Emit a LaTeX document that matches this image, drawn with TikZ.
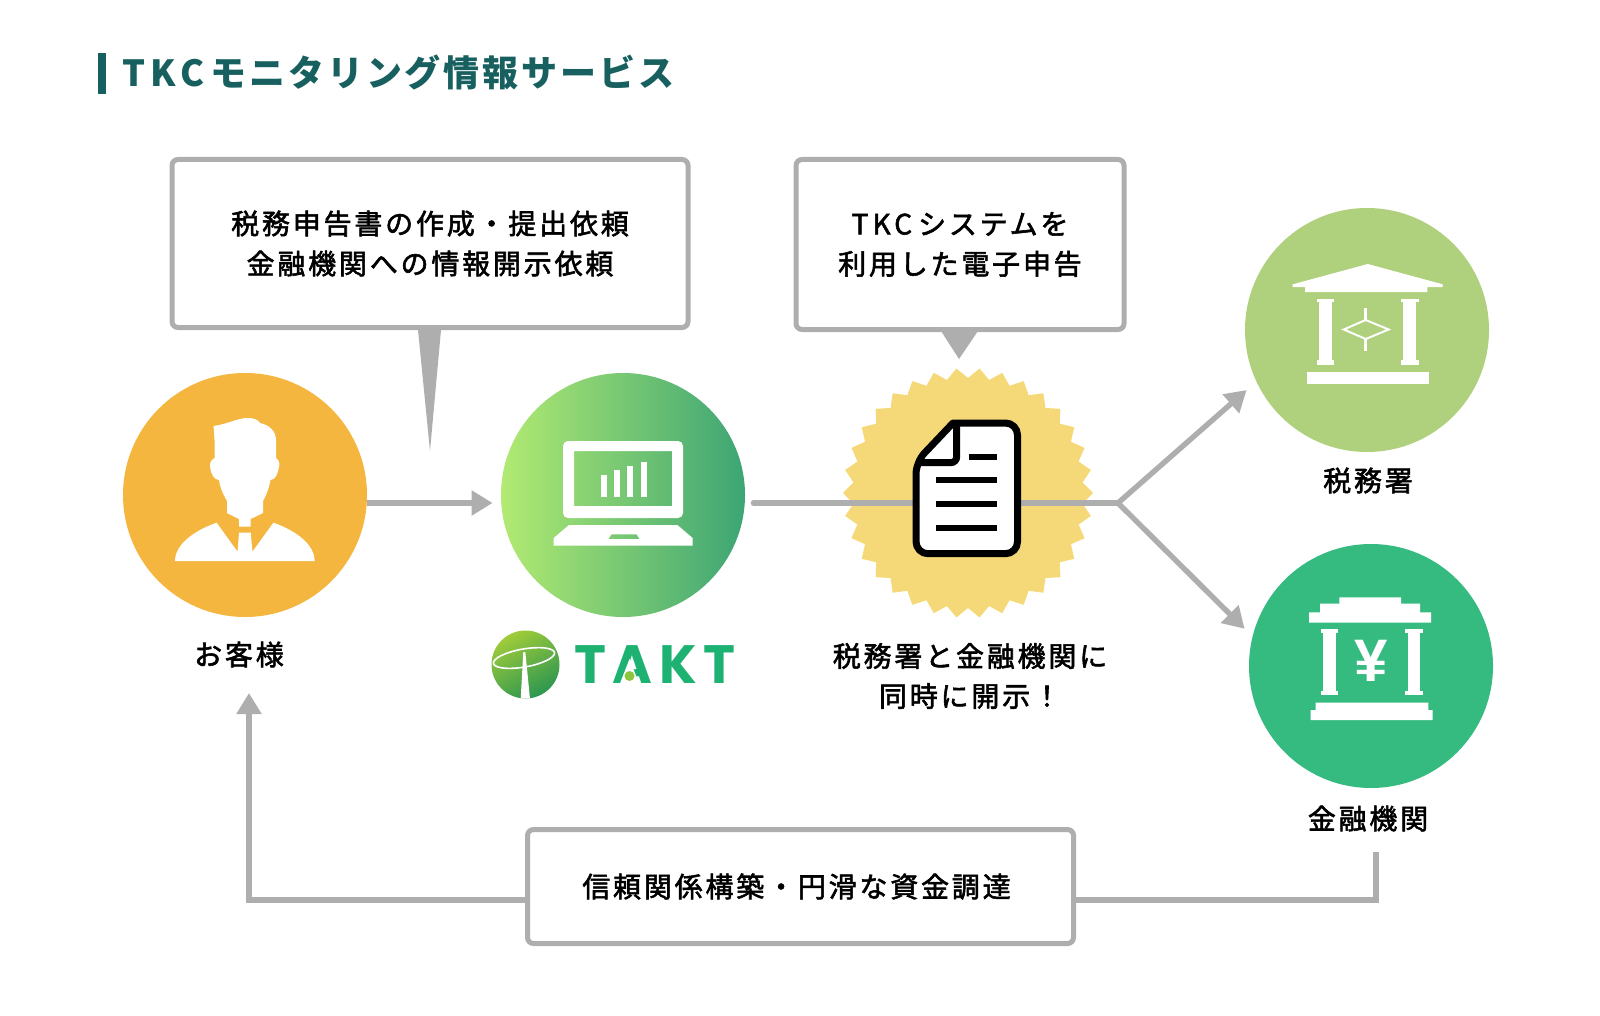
\documentclass[tikz,border=0pt]{standalone}
\usepackage{fontspec}
\usepackage{tikz}
\usetikzlibrary{arrows.meta,shapes.geometric}

\newfontfamily\jpfont[LetterSpace=10,FakeBold=2]{Noto Sans CJK JP}
\newfontfamily\titlefont[LetterSpace=8]{Noto Sans CJK JP}
\newfontfamily\logofont[LetterSpace=12]{Poppins}
\newcommand{\wideLetters}[1]{{\addfontfeature{LetterSpace=15}#1}\kern3pt}
\newcommand{\upText}[1]{\raisebox{0.7pt}{#1}}

\definecolor{flowGrey}{HTML}{AEAEAE}
\definecolor{titleTeal}{HTML}{17605F}
\definecolor{customerOrange}{HTML}{F4B63F}
\definecolor{sealYellow}{HTML}{F5D978}
\definecolor{taxGreen}{HTML}{AFD07C}
\definecolor{bankGreen}{HTML}{35BB80}
\definecolor{logoGreen}{HTML}{1DB272}
\definecolor{logoDot}{HTML}{8CC63F}

\tikzset{
	bigCircle/.style={circle, inner sep=0pt, minimum size=122pt},
	calloutBox/.style={rectangle, draw=flowGrey, line width=2.5pt, rounded corners=3pt, fill=white, inner sep=0pt, align=center, font=\jpfont\fontsize{14}{20}\selectfont},
	jpLabel/.style={align=center, inner sep=0pt, font=\jpfont\fontsize{14}{20}\selectfont},
	flowLine/.style={draw=flowGrey, line width=2.7pt},
	flowArrow/.style={flowLine, -{Triangle[length=10.5pt,width=12pt]}},
	iconFill/.style={fill=white, draw=none},
	docLine/.style={line width=3pt, draw=black}
}

\begin{document}
\begin{tikzpicture}[x=0.5pt,y=-0.5pt]
	
	\useasboundingbox (0,0) rectangle (1600,1016);
	
	% Title
	
	\node[rectangle, fill=titleTeal, minimum width=4pt, minimum height=20.5pt, inner sep=0pt]
	(titleBar) at (102,73.5) {};
	
	\node[anchor=west, inner sep=0pt, text=titleTeal, font=\titlefont\bfseries\fontsize{18}{20}\selectfont]
	(titleText) at (122,72) {\wideLetters{TKC}モニタリング情報サービス};
	
	% Circles
	
	\node[bigCircle, fill=customerOrange]
	(customerNode) at (245,495) {};
	
	\node[bigCircle, shading=axis, left color={rgb,255:red,178;green,234;blue,114}, right color={rgb,255:red,60;green,165;blue,116}]
	(taktNode) at (623,495) {};
	
	\node[star, star points=34, star point ratio=1.087, shape border rotate=5.29, minimum size=125pt, inner sep=0pt, fill=sealYellow]
	(sealNode) at (968,493) {};
	
	\node[bigCircle, fill=taxGreen]
	(taxNode) at (1367,330) {};
	
	\node[bigCircle, fill=bankGreen]
	(bankNode) at (1371,666) {};
	
	% Callouts
	
	\node[calloutBox, minimum width=258pt, minimum height=84pt]
	(filingBox) at (430,243.5) {\upText{税務申告書の作成・提出依頼}\\\upText{金融機関への情報開示依頼}};
	
	\node[calloutBox, minimum width=164pt, minimum height=85pt]
	(systemBox) at (960,244.5) {\upText{\wideLetters{TKC}システムを}\\\upText{利用した電子申告}};
	
	\node[calloutBox, minimum width=273pt, minimum height=57pt]
	(trustBox) at (800.5,886.5) {\upText{信頼関係構築・円滑な資金調達}\hspace{4pt}};
	
	\fill[flowGrey] (418,330) -- (441,330) -- (430,451) -- cycle;
	\fill[flowGrey] (941,331) -- (978,331) -- (959,359) -- cycle;
	
	% Labels
	
	\node[jpLabel] (customerLabel) at (239,654.5) {お客様};
	\node[jpLabel] (sealLabel) at (970,676) {税務署と金融機関に\\同時に開示！};
	\node[jpLabel] (taxLabel) at (1368,480.5) {税務署};
	\node[jpLabel] (bankLabel) at (1368,818.5) {金融機関};
	
	% Edges...
	
	\coordinate (split) at (1118,503);
	\coordinate (customerIn) at (249,693);
	\coordinate (bankOut) at (1376,852);
	
	\draw[flowArrow, shorten >=4pt] ([yshift=-4pt]customerNode.east) -- ([yshift=-4pt]taktNode.west);
	\draw[flowLine, line cap=round, shorten <=4pt] ([yshift=-4pt]taktNode.east) -- (split);
	\draw[flowArrow, shorten >=6.3pt] (split) -- (taxNode.205.1);
	\draw[flowArrow, shorten >=5.4pt] (split) -- (bankNode.166.1);
	\draw[flowArrow] ([yshift=-6.75pt]trustBox.west) -| (customerIn);
	\draw[flowLine] ([yshift=-6.75pt]trustBox.east) -| (bankOut);
	
	% Person
	
	\fill[iconFill] (213.6,426) .. controls (228,424) and (238,418) .. (247,418)
		.. controls (255,418) and (258,420) .. (260,423)
		.. controls (270,425) and (276,432) .. (276,440) -- (276,458)
		.. controls (279,460) and (280,463) .. (279,467)
		.. controls (278,474) and (275,480) .. (270.5,480)
		.. controls (269,488) and (266,496) .. (263,501)
		-- (263,513) -- (250.7,519) -- (250.7,526.7) -- (239,526.7) -- (239,519) -- (227,513) -- (227,501)
		.. controls (224,496) and (220,488) .. (219,480)
		.. controls (214,480) and (211,474) .. (210,467)
		.. controls (209.5,463) and (211,460) .. (214.5,458) -- (214.5,440) -- cycle;
	\fill[iconFill] (216.6,522.7) -- (237.6,551.7) -- (239,532.7) -- (250.7,532.7) -- (252.4,551.7) -- (273.4,522.7)
		.. controls (297,531) and (314.6,545) .. (314.6,561) -- (175,561)
		.. controls (175,545) and (193,531) .. (216.6,522.7) -- cycle;
	
	% Laptop
	
	\fill[iconFill, even odd rule, rounded corners=2.5pt] (563,441) rectangle (683,518) [sharp corners] (574,451) rectangle (672,506);
	\foreach \barX/\barTop in {601/475, 613.5/470, 626.5/466, 640.5/462}
		\fill[iconFill] (\barX,\barTop) rectangle (\barX+6,496.7);
	\fill[iconFill, even odd rule] (569,525) -- (677.4,525) -- (692.6,538) -- (692.6,545.7) -- (553.7,545.7) -- (553.7,538) -- cycle
		(611.4,534.3) -- (636.6,534.3) -- (639.6,539) -- (608.4,539) -- cycle;
	
	% Document
	
	\filldraw[fill=white, draw=black, line width=3.5pt, line join=round, rounded corners=6pt] (953,423) -- (1017.5,423) -- (1017.5,553.7) -- (916,553.7) -- (916,462) [sharp corners] -- cycle;
	\draw[draw=black, line width=3.5pt, rounded corners=3pt] (956.7,423) -- (956.7,462.7) -- (916,462.7);
	\draw[docLine] (968.7,456.7) -- (997.3,456.7);
	\foreach \lineY in {480.3, 504.3, 528.3}
		\draw[docLine] (936,\lineY) -- (997.3,\lineY);
	
	% Tax office
	
	\fill[iconFill] (1367.7,264) -- (1442.7,284.3) -- (1442.7,287) -- (1427.3,287) -- (1427.3,292) -- (1305,292) -- (1305,287) -- (1292.7,287) -- (1292.7,284.3) -- cycle;
	\foreach \colX in {1325.3, 1409.7} {
		\fill[iconFill] (\colX-6.3,300) rectangle (\colX+6.3,362);
		\fill[iconFill] (\colX-8.8,298.9) rectangle (\colX+8.8,302.3);
		\fill[iconFill] (\colX-8.8,360) rectangle (\colX+8.8,364.7);
	}
	\fill[iconFill] (1306.7,371.6) rectangle (1429,384);
	\draw[white, line width=1pt] (1343.7,329.5) -- (1365.7,320) -- (1388.7,329.5) -- (1365.7,339) -- cycle;
	\draw[white, line width=1.7pt] (1365.7,308) -- (1365.7,320);
	\draw[white, line width=1.7pt] (1365.7,339) -- (1365.7,351.3);
	
	% Bank
	
	\fill[iconFill] (1339.3,597.3) -- (1401,597.3) -- (1401,603.5) -- (1420,603.5) -- (1420,612.3) -- (1431,612.3) -- (1431,622.6) -- (1309,622.6) -- (1309,612.3) -- (1320,612.3) -- (1320,603.5) -- (1339.3,603.5) -- cycle;
	\foreach \colX in {1329.4, 1414} {
		\fill[iconFill] (\colX-6.3,630) rectangle (\colX+6.3,693);
		\fill[iconFill] (\colX-8.8,629) rectangle (\colX+8.8,633);
		\fill[iconFill] (\colX-8.8,691) rectangle (\colX+8.8,695);
	}
	\fill[iconFill] (1315.7,702.7) -- (1428.3,702.7) -- (1428.3,710) -- (1432.7,710) -- (1432.7,720) -- (1310.7,720) -- (1310.7,710) -- (1315.7,710) -- cycle;
	\node[text=white, inner sep=0pt, font=\fontspec{Liberation Sans}\bfseries\fontsize{30}{30}\selectfont]
	(yenSign) at (1371,661) {¥};
	
	% Logo
	
	\node[circle, inner sep=0pt, minimum size=34pt, shading=axis, left color={rgb,255:red,160;green,204;blue,58}, right color={rgb,255:red,44;green,150;blue,80}, shading angle=30]
	(logoGlobe) at (525.5,664.5) {};
	\begin{scope}
		\clip (525.5,664.5) circle (34);
		\fill[white] (523.3,652) -- (525.3,652) -- (530,699) -- (520.7,699) -- cycle;
		\draw[white, line width=0.8pt, rotate around={10:(524,658)}] (524,658) ellipse (31 and 9);
	\end{scope}
	
	\node[anchor=west, inner sep=0pt, text=logoGreen, font=\logofont\bfseries\fontsize{27}{27}\selectfont]
	(logoText) at (574,665) {TAKT};
	\fill[white] (629.5,659) -- (639.5,684.5) -- (619.5,684.5) -- cycle;
	\fill[logoDot] (629.5,676) circle (5);
	
\end{tikzpicture}
\end{document}
